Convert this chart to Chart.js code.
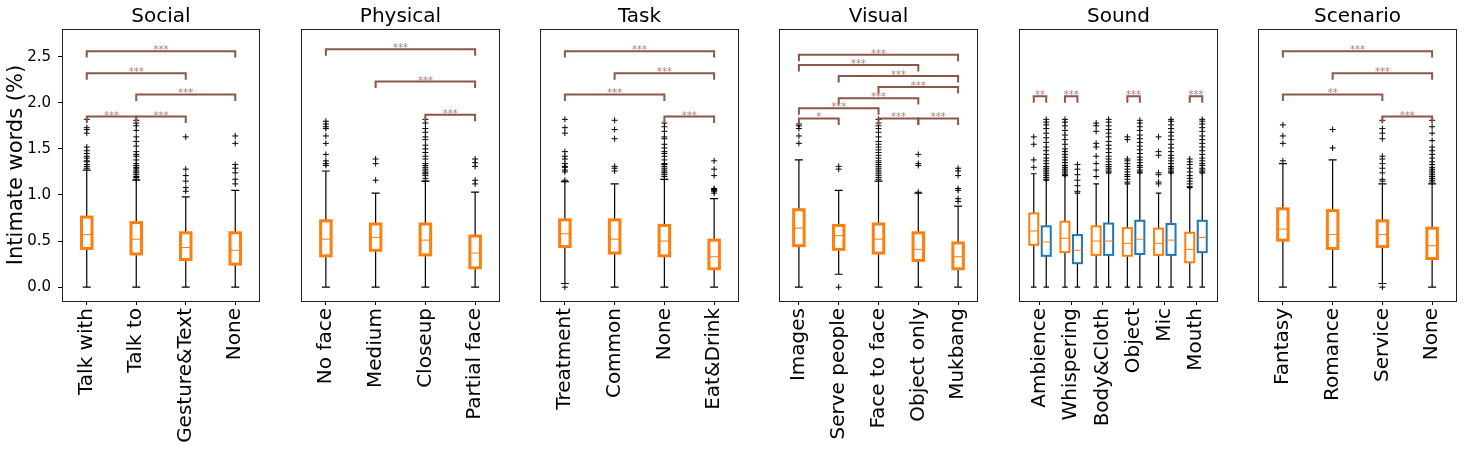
<!DOCTYPE html>
<html>
<head>
<meta charset="utf-8">
<script src="https://cdn.jsdelivr.net/npm/chart.js@4.4.0/dist/chart.umd.min.js"></script>
<style>
  body { margin: 0; background: #fff; width: 1464px; height: 461px; overflow: hidden; position: relative; }
  canvas { position: absolute; top: 0; }
</style>
</head>
<body>
<canvas id="social" width="270" height="461" style="left:0px"></canvas>
<canvas id="physical" width="219" height="461" style="left:291px"></canvas>
<canvas id="task" width="219" height="461" style="left:530px"></canvas>
<canvas id="visual" width="219" height="461" style="left:769px"></canvas>
<canvas id="sound" width="219" height="461" style="left:1009px"></canvas>
<canvas id="scenario" width="219" height="461" style="left:1248px"></canvas>
<script>
const ORANGE = '#ff7f0e'
const BLUE = '#1f77b4'
const BROWN = '#8c564b'
Chart.defaults.font.family = 'DejaVu Sans'
Chart.defaults.color = '#000'

// every box is [low whisker, q1, median, q3, high whisker]
// significance brackets are [from, to, stars, height]

// ------------------- SOCIAL -------------------
const socialLabels = ['Talk with', 'Talk to', 'Gesture&Text', 'None']
const socialBoxes = [
  [0, 0.42, 0.57, 0.76, 1.27],
  [0, 0.36, 0.52, 0.70, 1.16],
  [0, 0.30, 0.43, 0.59, 0.98],
  [0, 0.25, 0.40, 0.59, 1.05]
]
const socialOutliers = [
  [1.29, 1.31, 1.33, 1.36, 1.37, 1.40, 1.42, 1.45, 1.48, 1.52, 1.67, 1.71, 1.73, 1.82],
  [1.17, 1.19, 1.20, 1.22, 1.24, 1.25, 1.27, 1.29, 1.30, 1.32, 1.34, 1.38, 1.42, 1.44, 1.47, 1.53, 1.58, 1.63, 1.70, 1.75, 1.78, 1.81],
  [1.04, 1.08, 1.15, 1.21, 1.28, 1.63],
  [1.12, 1.17, 1.24, 1.29, 1.33, 1.56, 1.64]
]
const socialSig = [[1, 4, '***', 2.56], [1, 3, '***', 2.32], [2, 4, '***', 2.09], [1, 2, '***', 1.85], [2, 3, '***', 1.85]]

// ------------------- PHYSICAL -------------------
const physicalLabels = ['No face', 'Medium', 'Closeup', 'Partial face']
const physicalBoxes = [
  [0, 0.34, 0.52, 0.72, 1.26],
  [0, 0.40, 0.54, 0.685, 1.02],
  [0, 0.35, 0.51, 0.685, 1.15],
  [0, 0.21, 0.37, 0.555, 1.03]
]
const physicalOutliers = [
  [1.32, 1.34, 1.37, 1.44, 1.56, 1.64, 1.72, 1.74, 1.77, 1.80],
  [1.16, 1.34, 1.39],
  [1.15, 1.18, 1.21, 1.23, 1.24, 1.26, 1.28, 1.30, 1.32, 1.34, 1.39, 1.42, 1.46, 1.50, 1.54, 1.60, 1.63, 1.68, 1.72, 1.78, 1.82],
  [1.12, 1.16, 1.31, 1.35, 1.39]
]
const physicalSig = [[1, 4, '***', 2.58], [2, 4, '***', 2.23], [3, 4, '***', 1.87]]

// ------------------- TASK -------------------
const taskLabels = ['Treatment', 'Common', 'None', 'Eat&Drink']
const taskBoxes = [
  [0.04, 0.44, 0.58, 0.73, 1.145],
  [0, 0.37, 0.52, 0.73, 1.12],
  [0, 0.34, 0.50, 0.67, 1.17],
  [0, 0.20, 0.33, 0.51, 0.96]
]
const taskOutliers = [
  [0.0, 1.16, 1.25, 1.27, 1.30, 1.31, 1.34, 1.39, 1.42, 1.47, 1.67, 1.73, 1.82],
  [1.26, 1.29, 1.31, 1.61, 1.71, 1.81],
  [1.17, 1.20, 1.22, 1.24, 1.25, 1.27, 1.29, 1.31, 1.33, 1.34, 1.38, 1.42, 1.45, 1.47, 1.51, 1.55, 1.61, 1.63, 1.69, 1.74, 1.78],
  [1.02, 1.04, 1.05, 1.06, 1.07, 1.21, 1.28, 1.37]
]
const taskSig = [[1, 4, '***', 2.56], [2, 4, '***', 2.32], [1, 3, '***', 2.09], [3, 4, '***', 1.85]]

// ------------------- VISUAL -------------------
const visualLabels = ['Images', 'Serve people', 'Face to face', 'Object only', 'Mukbang']
const visualBoxes = [
  [0, 0.45, 0.64, 0.84, 1.38],
  [0.14, 0.41, 0.56, 0.67, 1.05],
  [0, 0.37, 0.52, 0.685, 1.15],
  [0, 0.29, 0.41, 0.59, 1.02],
  [0, 0.20, 0.33, 0.48, 0.88]
]
const visualOutliers = [
  [1.56, 1.64, 1.72, 1.75, 1.77],
  [0.0, 1.28, 1.31],
  [1.17, 1.19, 1.21, 1.23, 1.25, 1.27, 1.29, 1.31, 1.33, 1.35, 1.37, 1.40, 1.43, 1.46, 1.49, 1.52, 1.55, 1.58, 1.63, 1.68, 1.72, 1.75, 1.78, 1.82],
  [1.03, 1.32, 1.34, 1.44],
  [0.93, 0.96, 1.05, 1.07, 1.21, 1.26, 1.29]
]
const visualSig = [
  [1, 5, '***', 2.52], [1, 4, '***', 2.41], [2, 5, '***', 2.29], [3, 5, '***', 2.17],
  [2, 4, '***', 2.05], [1, 3, '***', 1.94], [1, 2, '*', 1.83], [3, 4, '***', 1.83], [4, 5, '***', 1.83]
]

// ------------------- SOUND (two series) -------------------
const soundLabels = ['Ambience', 'Whispering', 'Body&Cloth', 'Object', 'Mic', 'Mouth']
const soundOrangeBoxes = [
  [0, 0.46, 0.61, 0.80, 1.23],
  [0, 0.38, 0.53, 0.71, 1.21],
  [0, 0.35, 0.50, 0.66, 1.12],
  [0, 0.34, 0.475, 0.64, 1.12],
  [0, 0.35, 0.475, 0.635, 1.02],
  [0, 0.27, 0.41, 0.59, 1.08]
]
const soundBlueBoxes = [
  [0, 0.34, 0.49, 0.66, 1.16],
  [0, 0.26, 0.40, 0.565, 1.02],
  [0, 0.35, 0.50, 0.69, 1.24],
  [0, 0.36, 0.52, 0.72, 1.24],
  [0, 0.35, 0.51, 0.685, 1.24],
  [0, 0.38, 0.54, 0.72, 1.24]
]
const soundOrangeOutliers = [
  [1.30, 1.38, 1.55, 1.63],
  [1.22, 1.24, 1.26, 1.28, 1.30, 1.32, 1.35, 1.38, 1.41, 1.44, 1.47, 1.50, 1.55, 1.60, 1.65, 1.70, 1.75, 1.79, 1.82],
  [1.20, 1.27, 1.34, 1.42, 1.52, 1.56, 1.69, 1.75, 1.78],
  [1.14, 1.17, 1.20, 1.22, 1.25, 1.28, 1.31, 1.34, 1.37, 1.39, 1.60, 1.63],
  [1.12, 1.14, 1.22, 1.24, 1.43, 1.47, 1.63],
  [1.09, 1.12, 1.15, 1.18, 1.21, 1.25, 1.29, 1.33, 1.36, 1.39]
]
const soundBlueOutliers = [
  [1.17, 1.19, 1.21, 1.23, 1.25, 1.27, 1.29, 1.31, 1.34, 1.37, 1.40, 1.44, 1.48, 1.52, 1.57, 1.62, 1.67, 1.72, 1.76, 1.79, 1.82],
  [1.04, 1.10, 1.16, 1.22, 1.28, 1.33],
  [1.25, 1.27, 1.29, 1.31, 1.33, 1.36, 1.39, 1.42, 1.46, 1.50, 1.54, 1.58, 1.63, 1.67, 1.71, 1.75, 1.79, 1.82],
  [1.25, 1.27, 1.30, 1.32, 1.35, 1.38, 1.41, 1.45, 1.49, 1.53, 1.57, 1.61, 1.65, 1.70, 1.74, 1.78, 1.81],
  [1.25, 1.27, 1.29, 1.31, 1.34, 1.37, 1.40, 1.43, 1.47, 1.51, 1.55, 1.60, 1.64, 1.68, 1.72, 1.76, 1.80, 1.82],
  [1.25, 1.27, 1.29, 1.32, 1.34, 1.37, 1.40, 1.44, 1.48, 1.52, 1.56, 1.60, 1.64, 1.69, 1.73, 1.77, 1.80, 1.82]
]
// [category, stars, height] : bracket joins the orange and blue box of one category
const soundSig = [[1, '**', 2.07], [2, '***', 2.07], [4, '***', 2.07], [6, '***', 2.07]]

// ------------------- SCENARIO -------------------
const scenarioLabels = ['Fantasy', 'Romance', 'Service', 'None']
const scenarioBoxes = [
  [0, 0.51, 0.63, 0.85, 1.34],
  [0, 0.42, 0.57, 0.83, 1.38],
  [0.04, 0.44, 0.57, 0.72, 1.12],
  [0, 0.31, 0.45, 0.64, 1.12]
]
const scenarioOutliers = [
  [1.37, 1.56, 1.64, 1.76],
  [1.51, 1.71],
  [0.0, 1.15, 1.17, 1.24, 1.29, 1.34, 1.39, 1.42, 1.61, 1.67, 1.72, 1.81],
  [1.14, 1.16, 1.18, 1.20, 1.22, 1.24, 1.26, 1.28, 1.30, 1.33, 1.36, 1.40, 1.44, 1.48, 1.52, 1.59, 1.67, 1.74, 1.81]
]
const scenarioSig = [[1, 4, '***', 2.56], [2, 4, '***', 2.32], [1, 3, '**', 2.09], [3, 4, '***', 1.85]]


// ------------------- drawing -------------------
// boxes, whiskers, brackets and the frame go through the chart scales
const boxPlugin = {
  id: 'boxes',
  afterDatasetsDraw(chart, args, opts) {
    const ctx = chart.ctx
    const xs = chart.scales.x
    const ys = chart.scales.y
    const area = chart.chartArea
    ctx.save()
    ctx.lineCap = 'butt'
    opts.items.forEach(b => {
      const cx = xs.getPixelForValue(b.pos)
      const [lo, q1, md, q3, hi] = b.s.map(v => ys.getPixelForValue(v))
      const hw = b.w / 2
      const cw = b.cap / 2
      ctx.strokeStyle = '#000'
      ctx.lineWidth = 1.2
      ctx.beginPath()
      ctx.moveTo(cx, q1); ctx.lineTo(cx, lo)
      ctx.moveTo(cx, q3); ctx.lineTo(cx, hi)
      ctx.moveTo(cx - cw, lo); ctx.lineTo(cx + cw, lo)
      ctx.moveTo(cx - cw, hi); ctx.lineTo(cx + cw, hi)
      ctx.stroke()
      ctx.fillStyle = '#fff'
      ctx.fillRect(cx - hw, q3, 2 * hw, q1 - q3)
      ctx.strokeStyle = b.color
      ctx.lineWidth = b.lw
      ctx.strokeRect(cx - hw, q3, 2 * hw, q1 - q3)
      ctx.strokeStyle = ORANGE
      ctx.lineWidth = 1
      ctx.beginPath()
      ctx.moveTo(cx - hw, md); ctx.lineTo(cx + hw, md)
      ctx.stroke()
    })
    // significance brackets
    opts.sig.forEach(s => {
      const xa = xs.getPixelForValue(s[0])
      const xb = xs.getPixelForValue(s[1])
      const yy = ys.getPixelForValue(s[3])
      const leg = ys.getPixelForValue(s[3] - 0.07)
      ctx.strokeStyle = BROWN
      ctx.lineWidth = 2
      ctx.beginPath()
      ctx.moveTo(xa, leg); ctx.lineTo(xa, yy); ctx.lineTo(xb, yy); ctx.lineTo(xb, leg)
      ctx.stroke()
      ctx.fillStyle = '#a87d73'
      ctx.font = '10px "DejaVu Sans"'
      ctx.textAlign = 'center'
      ctx.textBaseline = 'alphabetic'
      ctx.fillText(s[2], (xa + xb) / 2, yy + 2)
    })
    // frame
    ctx.strokeStyle = '#222'
    ctx.lineWidth = 1
    ctx.strokeRect(Math.round(area.left) + 0.5, Math.round(area.top) + 0.5,
      Math.round(area.right - area.left) - 1, Math.round(area.bottom - area.top))
    ctx.restore()
  }
}

function buildItems(boxes, outliers, shift, color, w, lw, cap, items, points) {
  boxes.forEach((s, i) => {
    const pos = i + 1 + shift
    items.push({ pos: pos, s: s, color: color, w: w, lw: lw, cap: cap })
    outliers[i].forEach(v => points.push({ x: pos, y: v }))
  })
}

function makePanel(id, title, labels, xmin, xmax, items, points, sig, first) {
  const yAxis = {
    type: 'linear',
    min: -0.15,
    max: 2.8,
    display: first,
    afterBuildTicks: s => { s.ticks = [0, 0.5, 1, 1.5, 2, 2.5].map(v => ({ value: v })) },
    afterFit: s => { s.width = first ? 62 : 0 },
    ticks: { callback: v => v.toFixed(1), font: { size: 15 }, color: '#000', padding: 7 },
    grid: { display: true, drawOnChartArea: false, drawTicks: true, tickLength: 4, color: '#000' },
    border: { display: false },
    title: { display: true, text: 'Intimate words (%)', color: '#000', font: { size: 21 }, padding: { top: 4, bottom: 0 } }
  }
  return new Chart(document.getElementById(id), {
    type: 'scatter',
    data: {
      datasets: [{
        data: points,
        pointStyle: 'cross',
        radius: 3,
        borderColor: '#000',
        backgroundColor: '#000',
        borderWidth: 1
      }]
    },
    options: {
      responsive: false,
      animation: false,
      events: [],
      layout: { padding: { top: 3, left: first ? 0 : 10, right: 10, bottom: 0 } },
      plugins: {
        legend: { display: false },
        tooltip: { enabled: false },
        // fullSize false keeps the title centred over the frame, not the whole canvas
        title: {
          display: true, text: title, color: '#000', fullSize: false,
          font: { size: 20, weight: 'normal' }, padding: { top: 2, bottom: 0 }
        },
        boxes: { items: items, sig: sig }
      },
      scales: {
        x: {
          type: 'linear',
          min: xmin,
          max: xmax,
          afterBuildTicks: s => { s.ticks = labels.map((l, i) => ({ value: i + 1 })) },
          afterFit: s => { s.height = 160 },
          ticks: {
            callback: v => labels[Math.round(v) - 1],
            autoSkip: false, maxRotation: 90, minRotation: 90,
            font: { size: 20 }, color: '#000', padding: 3
          },
          grid: { display: true, drawOnChartArea: false, drawTicks: true, tickLength: 4, color: '#000' },
          border: { display: false }
        },
        y: yAxis
      }
    },
    plugins: [boxPlugin]
  })
}

function simplePanel(id, title, labels, boxes, outliers, sig, first) {
  const items = []
  const points = []
  buildItems(boxes, outliers, 0, ORANGE, 10.5, 3, 8, items, points)
  makePanel(id, title, labels, 0.5, labels.length + 0.5, items, points, sig, first)
}

simplePanel('social', 'Social', socialLabels, socialBoxes, socialOutliers, socialSig, true)
simplePanel('physical', 'Physical', physicalLabels, physicalBoxes, physicalOutliers, physicalSig, false)
simplePanel('task', 'Task', taskLabels, taskBoxes, taskOutliers, taskSig, false)
simplePanel('visual', 'Visual', visualLabels, visualBoxes, visualOutliers, visualSig, false)

// sound has an orange and a blue box per category
const soundItems = []
const soundPoints = []
buildItems(soundOrangeBoxes, soundOrangeOutliers, -0.2, ORANGE, 9, 2, 5.5, soundItems, soundPoints)
buildItems(soundBlueBoxes, soundBlueOutliers, 0.2, BLUE, 9, 2, 5.5, soundItems, soundPoints)
const soundPairs = soundSig.map(s => [s[0] - 0.2, s[0] + 0.2, s[1], s[2]])
makePanel('sound', 'Sound', soundLabels, 0.327, 6.705, soundItems, soundPoints, soundPairs, false)

simplePanel('scenario', 'Scenario', scenarioLabels, scenarioBoxes, scenarioOutliers, scenarioSig, false)
</script>
</body>
</html>
